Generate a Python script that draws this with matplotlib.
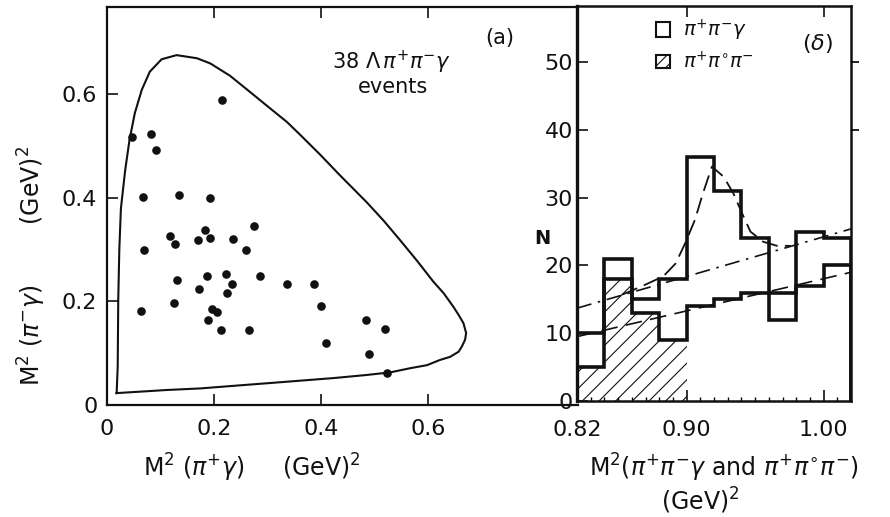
import matplotlib

matplotlib.use("Agg")
import matplotlib.pyplot as plt
from matplotlib.patches import Rectangle

INK = "#111111"

# (a) Dalitz plot: 38 events, M^2(pi+ gamma) vs M^2(pi- gamma)
event_x = [0.215, 0.047, 0.083, 0.092, 0.067, 0.135, 0.192, 0.275, 0.117, 0.127,
           0.170, 0.184, 0.193, 0.236, 0.259, 0.069, 0.131, 0.186, 0.222, 0.285,
           0.172, 0.233, 0.225, 0.336, 0.387, 0.126, 0.064, 0.196, 0.206, 0.188,
           0.213, 0.265, 0.399, 0.410, 0.484, 0.520, 0.490, 0.524]
event_y = [0.589, 0.518, 0.523, 0.492, 0.401, 0.406, 0.399, 0.345, 0.326, 0.312,
           0.318, 0.338, 0.323, 0.321, 0.299, 0.299, 0.241, 0.249, 0.254, 0.249,
           0.225, 0.233, 0.216, 0.234, 0.234, 0.197, 0.182, 0.185, 0.180, 0.165,
           0.144, 0.144, 0.191, 0.119, 0.165, 0.147, 0.098, 0.061]

# kinematic boundary of the Dalitz plot
boundary_x = [0.018, 0.020, 0.021, 0.023, 0.026, 0.034, 0.042, 0.052, 0.065, 0.080,
              0.102, 0.130, 0.168, 0.193, 0.230, 0.267, 0.299, 0.336, 0.361, 0.398,
              0.436, 0.485, 0.517, 0.548, 0.579, 0.610, 0.629, 0.647, 0.657, 0.666,
              0.671, 0.669, 0.663, 0.657, 0.641, 0.622, 0.598, 0.566, 0.529, 0.485,
              0.423, 0.361, 0.299, 0.236, 0.174, 0.112, 0.018]
boundary_y = [0.023, 0.074, 0.203, 0.300, 0.380, 0.454, 0.512, 0.564, 0.609, 0.644,
              0.668, 0.676, 0.670, 0.660, 0.636, 0.605, 0.578, 0.547, 0.522, 0.484,
              0.443, 0.392, 0.356, 0.318, 0.279, 0.238, 0.216, 0.190, 0.174, 0.158,
              0.139, 0.126, 0.113, 0.103, 0.093, 0.087, 0.077, 0.071, 0.063, 0.058,
              0.052, 0.047, 0.042, 0.037, 0.032, 0.029, 0.023]

# (b) mass-squared histograms, bins of 0.02 (GeV)^2
bin_edges = [0.82, 0.84, 0.86, 0.88, 0.90, 0.92, 0.94, 0.96, 0.98, 1.00, 1.02]
counts_pipigamma = [10, 21, 15, 18, 36, 31, 24, 12, 25, 24]
counts_pipi0pi = [5, 18, 13, 9, 14, 15, 16, 16, 17, 20]
hatched_bins = 4

# fitted curves
bg_line_x = [0.82, 1.02]
bg_line_y = [13.7, 25.4]
low_line_x = [0.82, 1.02]
low_line_y = [9.5, 19.0]
peak_x = [0.853, 0.867, 0.883, 0.892, 0.899, 0.906, 0.912, 0.9185, 0.927, 0.934,
          0.9405, 0.9466, 0.956, 0.966, 0.976]
peak_y = [15.7, 16.9, 18.4, 20.3, 23.3, 26.7, 30.7, 34.6, 33.1, 30.7,
          27.7, 25.0, 23.5, 22.9, 22.9]

FS = 16


def style_spines(ax, width):
    for spine in ax.spines.values():
        spine.set_linewidth(width)
        spine.set_color(INK)


def draw_dalitz(fig):
    ax = fig.add_axes([107 / 890, 112 / 517, 471 / 890, 398 / 517])
    ax.plot(boundary_x, boundary_y, color=INK, lw=1.5)
    ax.plot(event_x, event_y, "o", color=INK, ms=6.2, mec="none")
    ax.set_xlim(0, 0.88)
    ax.set_ylim(0, 0.769)
    style_spines(ax, 1.6)
    ax.spines["right"].set_visible(False)
    ax.set_xticks([0, 0.2, 0.4, 0.6])
    ax.set_xticklabels(["0", "0.2", "0.4", "0.6"])
    ax.set_yticks([0, 0.2, 0.4, 0.6])
    ax.set_yticklabels(["0", "0.2", "0.4", "0.6"])
    ax.tick_params(direction="in", length=8, width=1.2, labelsize=FS, colors=INK,
                   top=True, pad=7)
    ax.tick_params(axis="x", pad=10)
    ax.text(0.605, 0.862, r"38 $\Lambda\,\pi^{+}\pi^{-}\gamma$", transform=ax.transAxes,
            ha="center", va="center", fontsize=FS - 1, color=INK)
    ax.text(0.607, 0.800, "events", transform=ax.transAxes,
            ha="center", va="center", fontsize=FS - 1, color=INK)
    ax.text(0.834, 0.922, "(a)", transform=ax.transAxes,
            ha="center", va="center", fontsize=FS - 1, color=INK)
    return ax


def draw_histogram(fig):
    ax = fig.add_axes([577 / 890, 116 / 517, 274 / 890, 395 / 517])
    centers = [(a + b) / 2 for a, b in zip(bin_edges[:-1], bin_edges[1:])]
    ax.bar(centers[:hatched_bins], counts_pipi0pi[:hatched_bins], width=0.02,
           fill=False, hatch="//", edgecolor=INK, lw=0)
    ax.stairs(counts_pipigamma, bin_edges, color=INK, lw=2.6)
    ax.stairs(counts_pipi0pi, bin_edges, color=INK, lw=2.6)
    ax.plot(bg_line_x, bg_line_y, color=INK, lw=1.2, ls=(0, (9, 4, 1.5, 4)))
    ax.plot(low_line_x, low_line_y, color=INK, lw=1.2, ls=(0, (10, 5)))
    ax.plot(peak_x, peak_y, color=INK, lw=1.3, ls=(0, (9, 4)))
    ax.set_xlim(0.82, 1.02)
    ax.set_ylim(0, 58.3)
    style_spines(ax, 1.8)
    ax.spines["left"].set_linewidth(2.4)
    ax.set_xticks([0.82, 0.90, 1.00])
    ax.set_xticklabels(["0.82", "0.90", "1.00"])
    ax.set_xticks([0.83 + 0.01 * i for i in range(19)], minor=True)
    ax.set_yticks([0, 10, 20, 30, 40, 50])
    ax.tick_params(direction="in", length=8, width=1.2, labelsize=FS, colors=INK,
                   top=True, pad=7)
    ax.tick_params(which="minor", direction="in", length=3, width=1.0, top=False)
    ax.tick_params(axis="y", pad=3)
    ax.tick_params(axis="x", which="major", pad=14)

    # outward ticks on the right frame at 40 and 50
    side = ax.twinx()
    side.set_ylim(0, 58.3)
    side.set_yticks([40, 50])
    side.tick_params(direction="out", length=6, width=1.2, labelright=False)
    for spine in side.spines.values():
        spine.set_visible(False)

    ax.add_patch(Rectangle((0.288, 0.9215), 0.051, 0.038, transform=ax.transAxes,
                           fill=False, edgecolor=INK, lw=1.5))
    ax.add_patch(Rectangle((0.288, 0.843), 0.051, 0.033, transform=ax.transAxes,
                           fill=False, hatch="///", edgecolor=INK, lw=1.5))
    ax.text(0.387, 0.939, r"$\pi^{+}\pi^{-}\gamma$", transform=ax.transAxes,
            ha="left", va="center", fontsize=FS - 2, color=INK)
    ax.text(0.387, 0.858, r"$\pi^{+}\pi^{\circ}\pi^{-}$", transform=ax.transAxes,
            ha="left", va="center", fontsize=FS - 2, color=INK)
    ax.text(0.876, 0.906, r"($\delta$)", transform=ax.transAxes,
            ha="center", va="center", fontsize=FS, color=INK)
    return ax


def main():
    plt.rcParams["mathtext.fontset"] = "dejavusans"
    plt.rcParams["hatch.linewidth"] = 0.8
    fig = plt.figure(figsize=(8.9, 5.17), dpi=100)
    fig.patch.set_facecolor("white")

    draw_dalitz(fig)
    draw_histogram(fig)

    fig.text(32 / 890, 1 - 266 / 517, r"M$^2$ ($\pi^{-}\gamma$)        (GeV)$^2$",
             rotation=90, ha="center", va="center", fontsize=FS + 1, color=INK)
    fig.text(252 / 890, 1 - 468 / 517, r"M$^2$ ($\pi^{+}\gamma$)     (GeV)$^2$",
             ha="center", va="center", fontsize=FS + 1, color=INK)
    fig.text(542 / 890, 1 - 238 / 517, "N", ha="center", va="center",
             fontsize=FS - 2, color=INK, fontweight="bold")
    fig.text(724 / 890, 1 - 468 / 517,
             r"M$^2$($\pi^{+}\pi^{-}\gamma$ and $\pi^{+}\pi^{\circ}\pi^{-}$)",
             ha="center", va="center", fontsize=FS + 1, color=INK)
    fig.text(700 / 890, 1 - 501 / 517, r"(GeV)$^2$", ha="center", va="center",
             fontsize=FS + 1, color=INK)

    fig.savefig("out.png", dpi=100, facecolor="white")
    plt.close(fig)


if __name__ == "__main__":
    main()
